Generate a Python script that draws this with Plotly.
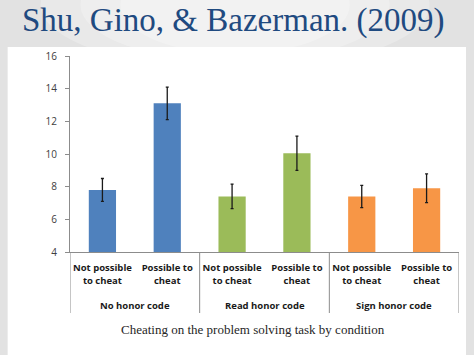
import plotly.graph_objects as go

# ---- data ----
categories = ["Not possible<br>to cheat", "Possible to<br>cheat",
              "Not possible<br>to cheat", "Possible to<br>cheat",
              "Not possible<br>to cheat", "Possible to<br>cheat"]
groups = ["No honor code", "Read honor code", "Sign honor code"]
means = [7.8, 13.1, 7.4, 10.05, 7.4, 7.9]
errors = [0.7, 1.0, 0.75, 1.05, 0.68, 0.88]
bar_colors = ["#4F81BD", "#4F81BD", "#9BBB59", "#9BBB59", "#F79646", "#F79646"]
y_ticks = [4, 6, 8, 10, 12, 14, 16]
title_text = "Shu, Gino, &amp; Bazerman. (2009)"
x_title = "Cheating on the problem solving task by condition"

xpos = list(range(len(categories)))

fig = go.Figure()
fig.add_trace(go.Bar(
    x=xpos, y=means, width=0.42,
    marker=dict(color=bar_colors, line=dict(width=0)),
    error_y=dict(type="data", array=errors, visible=True,
                 color="#1a1a1a", thickness=1.3, width=1.5),
))

W, H = 474, 355
L, R, T, B = 69.5, 14.5, 56, 103
pw = W - L - R
ph = H - T - B

def px(x):
    return (x - L) / pw

def py(y):
    return (H - B - y) / ph

shapes = []
# soft lighter band behind title
for k, a in enumerate([0.25, 0.25, 0.25]):
    shapes.append(dict(type="circle", xref="paper", yref="paper", layer="below",
                       x0=px(40 + 40 * k), x1=px(430 - 40 * k),
                       y0=py(70 - 8 * k), y1=py(-60 + 8 * k),
                       fillcolor="rgba(255,255,255,%s)" % a, line=dict(width=0)))
# white slide panel
shapes.append(dict(type="rect", xref="paper", yref="paper", layer="below",
                   x0=px(7), x1=px(466.5), y0=py(356), y1=py(47),
                   fillcolor="white", line=dict(width=0)))
# group dividers
for gx in [-0.5, 1.5, 3.5, 5.5]:
    shapes.append(dict(type="line", xref="x", yref="paper",
                       x0=gx, x1=gx, y0=0, y1=py(313),
                       line=dict(color="#8c8c8c", width=1)))

annotations = []
for i, g in enumerate(groups):
    annotations.append(dict(x=2 * i + 0.5, xref="x", y=py(305), yref="paper",
                            text="<b>%s</b>" % g, showarrow=False,
                            font=dict(family="Open Sans", size=9.5, color="#1a1a1a"),
                            xanchor="center", yanchor="middle"))
annotations.append(dict(x=px(253), xref="paper", y=py(329), yref="paper",
                        text=x_title, showarrow=False,
                        font=dict(family="Liberation Serif", size=13, color="#262626"),
                        xanchor="center", yanchor="middle"))
annotations.append(dict(x=px(233.5), xref="paper", y=py(21), yref="paper",
                        text=title_text, showarrow=False,
                        font=dict(family="Liberation Serif", size=33, color="#1F4A80"),
                        xanchor="center", yanchor="middle"))

fig.update_layout(
    width=W, height=H,
    margin=dict(l=L, r=R, t=T, b=B, pad=0),
    paper_bgcolor="#e2e2e2",
    plot_bgcolor="rgba(0,0,0,0)",
    showlegend=False,
    shapes=shapes,
    annotations=annotations,
    xaxis=dict(range=[-0.5, 5.5], tickmode="array", tickvals=xpos,
               ticktext=["<b>%s</b>" % c for c in categories],
               showline=True, linecolor="#8c8c8c", linewidth=1,
               ticks="", showgrid=False, zeroline=False,
               tickfont=dict(family="Open Sans", size=9.5, color="#1a1a1a"),
               ticklabelstandoff=7),
    yaxis=dict(range=[4, 16], tickmode="array", tickvals=y_ticks,
               showline=True, linecolor="#8c8c8c", linewidth=1,
               ticks="outside", ticklen=4, tickcolor="#8c8c8c",
               showgrid=False, zeroline=False,
               tickfont=dict(family="Open Sans", size=10, color="#404040"),
               ticklabelstandoff=6),
    bargap=0.3,
)

fig.write_html("out.html", config={"displayModeBar": False},
               post_script="document.body.style.margin='0';document.body.style.overflow='hidden';")
